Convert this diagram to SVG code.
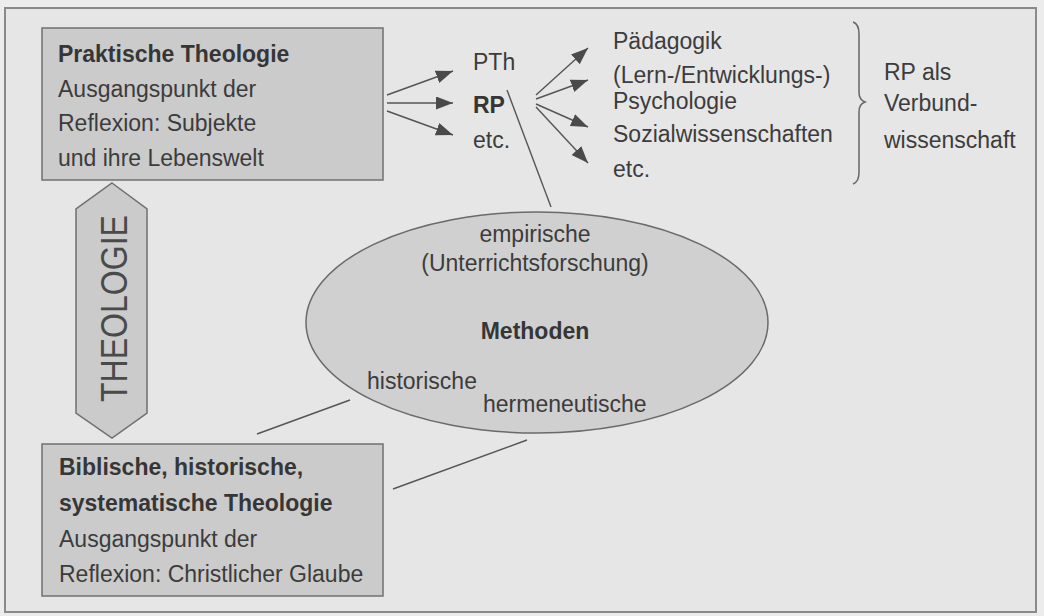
<svg xmlns="http://www.w3.org/2000/svg" width="1044" height="616" viewBox="0 0 1044 616">
<defs>
<style>
.t{font-family:"Liberation Sans",Arial,sans-serif;font-size:23px;fill:#3c3c3c}
.b{font-weight:bold;fill:#363636}
.box{fill:#cbcbcb;stroke:#707070;stroke-width:1.5}
.ln{stroke:#555;stroke-width:1.4;fill:none}
.ar{stroke:#555;stroke-width:1.4;fill:none;marker-end:url(#ah)}
</style>
<marker id="ah" markerUnits="userSpaceOnUse" markerWidth="18" markerHeight="14" refX="17" refY="6.5" orient="auto">
<path d="M0,0 L17,6.5 L0,13 z" fill="#4a4a4a"/>
</marker>
</defs>
<rect x="0" y="0" width="1044" height="616" fill="#ececec"/>
<rect x="5" y="8" width="1031" height="604" fill="#e6e6e6" stroke="#8a8a8a" stroke-width="2"/>

<g id="praktische-theologie">
<rect class="box" x="42" y="28" width="341" height="152"/>
<text class="t b" x="58" y="62">Praktische Theologie</text>
<text class="t" x="58" y="97">Ausgangspunkt der</text>
<text class="t" x="58" y="131">Reflexion: Subjekte</text>
<text class="t" x="58" y="166">und ihre Lebenswelt</text>
</g>

<g id="theologie">
<polygon class="box" points="112,183 147,209 147,413 112,438 76,413 76,209" fill="#c9c9c9"/>
<text class="t" transform="translate(127,308.5) rotate(-90)" text-anchor="middle" style="font-size:37px;fill:#4a4a4a" textLength="187" lengthAdjust="spacingAndGlyphs">THEOLOGIE</text>
</g>

<g id="biblische-theologie">
<rect class="box" x="42" y="444" width="341" height="152"/>
<text class="t b" x="59" y="475">Biblische, historische,</text>
<text class="t b" x="59" y="511">systematische Theologie</text>
<text class="t" x="59" y="547">Ausgangspunkt der</text>
<text class="t" x="59" y="582">Reflexion: Christlicher Glaube</text>
</g>

<g id="methoden">
<ellipse cx="537" cy="322.5" rx="231" ry="110.5" fill="#d0d0d0" stroke="#6a6a6a" stroke-width="1.5"/>
<text class="t" x="535" y="242" text-anchor="middle">empirische</text>
<text class="t" x="535" y="271" text-anchor="middle">(Unterrichtsforschung)</text>
<text class="t b" x="535" y="339" text-anchor="middle">Methoden</text>
<text class="t" x="367" y="389">historische</text>
<text class="t" x="483" y="412">hermeneutische</text>
</g>

<g id="fachbereiche">
<text class="t" x="473" y="70">PTh</text>
<text class="t b" x="473" y="113">RP</text>
<text class="t" x="473" y="148">etc.</text>
</g>

<g id="bezugswissenschaften">
<text class="t" x="613" y="49">Pädagogik</text>
<text class="t" x="613" y="83">(Lern-/Entwicklungs-)</text>
<text class="t" x="613" y="109">Psychologie</text>
<text class="t" x="613" y="142">Sozialwissenschaften</text>
<text class="t" x="613" y="177">etc.</text>
</g>

<g id="verbundwissenschaft">
<path d="M853,22 Q859,24 859,34 L859,92 Q859,100 865,102 Q859,104 859,112 L859,172 Q859,182 853,184" fill="none" stroke="#666" stroke-width="1.5"/>
<text class="t" x="884" y="80">RP als</text>
<text class="t" x="884" y="111">Verbund-</text>
<text class="t" x="884" y="148">wissenschaft</text>
</g>

<g id="connectors">
<line class="ar" x1="387" y1="95" x2="453" y2="71"/>
<line class="ar" x1="387" y1="103" x2="453" y2="103"/>
<line class="ar" x1="387" y1="111" x2="453" y2="135"/>
<line class="ar" x1="536" y1="95" x2="588" y2="48"/>
<line class="ar" x1="536" y1="99" x2="588" y2="80"/>
<line class="ar" x1="536" y1="104" x2="588" y2="127"/>
<line class="ar" x1="536" y1="107" x2="588" y2="163"/>
<line class="ln" x1="507" y1="90" x2="551" y2="207"/>
<line class="ln" x1="257" y1="434" x2="350" y2="400"/>
<line class="ln" x1="393" y1="489" x2="527" y2="440"/>
</g>
</svg>
